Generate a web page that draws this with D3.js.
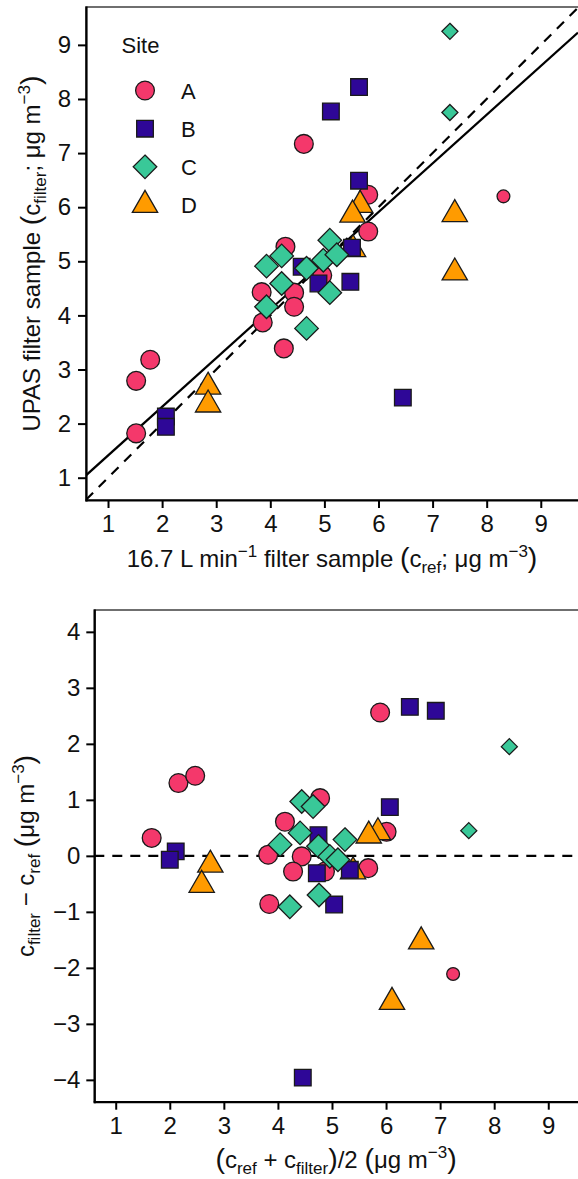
<!DOCTYPE html>
<html>
<head>
<meta charset="utf-8">
<script src="https://cdn.jsdelivr.net/npm/d3@7"></script>
<style>
  body { margin: 0; background: #fff; }
  svg text { font-family: "Liberation Sans", Arial, Helvetica, sans-serif; fill: #111; }
</style>
</head>
<body>
<svg id="chart" width="578" height="1179"></svg>
<script>
  const sites = ['A', 'B', 'C', 'D'];
  const siteColors = ['#f4386b', '#2e0797', '#39c898', '#ff9b00'];

  // upper panel: [c_ref, c_filter, run]  (run 1 = full sample, 0 = short sample)
  const scatterA = [
    [1.52, 2.79, 1], [1.78, 3.18, 1], [1.52, 1.82, 1], [3.86, 3.87, 1], [3.84, 4.43, 1],
    [4.25, 3.39, 1], [4.28, 5.27, 1], [4.44, 4.42, 1], [4.44, 4.16, 1], [4.62, 7.17, 1],
    [4.96, 4.74, 1], [5.81, 6.23, 1], [5.81, 5.55, 1], [8.31, 6.20, 0]
  ];
  const scatterB = [
    [2.07, 2.13, 1], [2.07, 1.94, 1], [5.12, 7.77, 1], [5.64, 8.22, 1], [5.64, 6.49, 1],
    [6.45, 2.48, 1], [5.51, 5.25, 1], [5.48, 4.62, 1], [4.89, 4.59, 1], [4.58, 4.90, 1]
  ];
  const scatterC = [
    [3.93, 4.91, 1], [4.21, 5.10, 1], [4.21, 4.59, 1], [3.93, 4.16, 1], [4.67, 3.76, 1],
    [4.67, 4.87, 1], [5.10, 5.39, 1], [4.98, 5.02, 1], [5.10, 4.42, 1], [5.23, 5.12, 1],
    [7.32, 9.25, 0], [7.32, 7.75, 0]
  ];
  const scatterD = [
    [2.85, 2.68, 1], [2.85, 2.35, 1], [7.41, 5.87, 1], [7.41, 4.79, 1], [5.66, 6.04, 1],
    [5.52, 5.86, 1], [5.53, 5.22, 1]
  ];

  // lower panel: [(c_ref + c_filter)/2, c_filter - c_ref, run]
  const blandA = [
    [1.665, 0.32, 1], [2.16, 1.30, 1], [2.47, 1.43, 1], [3.82, 0.02, 1], [4.13, 0.61, 1],
    [3.84, -0.86, 1], [4.78, 1.03, 1], [4.44, -0.01, 1], [4.28, -0.28, 1], [5.89, 2.56, 1],
    [4.87, -0.28, 1], [6.01, 0.43, 1], [5.67, -0.22, 1], [7.24, -2.11, 0]
  ];
  const blandB = [
    [2.11, 0.08, 1], [2.00, -0.07, 1], [6.44, 2.66, 1], [6.92, 2.59, 1], [6.07, 0.87, 1],
    [4.46, -3.96, 1], [5.33, -0.25, 1], [5.04, -0.87, 1], [4.72, -0.31, 1], [4.75, 0.37, 1]
  ];
  const blandC = [
    [4.44, 0.97, 1], [4.65, 0.88, 1], [4.41, 0.41, 1], [4.04, 0.20, 1], [4.22, -0.91, 1],
    [4.75, 0.17, 1], [5.24, 0.29, 1], [4.96, -0.01, 1], [4.76, -0.70, 1], [5.11, -0.07, 1],
    [8.28, 1.95, 0], [7.53, 0.45, 0]
  ];
  const blandD = [
    [2.75, -0.16, 1], [2.59, -0.52, 1], [6.65, -1.53, 1], [6.11, -2.61, 1], [5.85, 0.42, 1],
    [5.68, 0.36, 1], [5.39, -0.28, 1]
  ];

  const xTicks = [1, 2, 3, 4, 5, 6, 7, 8, 9];
  const yTicksTop = [1, 2, 3, 4, 5, 6, 7, 8, 9];
  const yTicksBottom = [-4, -3, -2, -1, 0, 1, 2, 3, 4];
  const fitLine = { intercept: 0.51, slope: 0.90 };
  const drawOrder = ['A', 'D', 'B', 'C'];

  const svg = d3.select('#chart');
  const color = d3.scaleOrdinal(sites, siteColors);

  // R-like point shapes (pch 21-24), size = radius
  const shapes = {
    A: { draw(ctx, r) { ctx.moveTo(r, 0); ctx.arc(0, 0, r, 0, 2 * Math.PI); } },
    B: { draw(ctx, r) { const h = r * 0.886; ctx.rect(-h, -h, 2 * h, 2 * h); } },
    C: { draw(ctx, r) {
      const h = r * 1.2533;
      ctx.moveTo(0, -h); ctx.lineTo(h, 0); ctx.lineTo(0, h); ctx.lineTo(-h, 0); ctx.closePath();
    } },
    D: { draw(ctx, r) {
      ctx.moveTo(0, -r * 1.5551); ctx.lineTo(r * 1.3468, r * 0.7776);
      ctx.lineTo(-r * 1.3468, r * 0.7776); ctx.closePath();
    } }
  };
  const radius = d3.scaleOrdinal([1, 0], [9.4, 6.4]);
  const symbol = (site, run) => d3.symbol().type(shapes[site]).size(radius(run))();

  // text with sub/superscripts
  function rich(text, parts) {
    let cur = 0;
    parts.forEach(([t, kind]) => {
      const off = kind === 'sup' ? -10 : kind === 'sub' ? 6 : 0;
      const size = kind === 'sup' || kind === 'sub' ? 17 : kind === 'big' ? 28.5 : 24;
      text.append('tspan').attr('dy', off - cur).style('font-size', size + 'px').text(t);
      cur = off;
    });
  }

  function panel(box, xDomain, yDomain, yTicks, id) {
    const x = d3.scaleLinear(xDomain, [box.left, box.right]);
    const y = d3.scaleLinear(yDomain, [box.bottom, box.top]);
    const g = svg.append('g');

    g.append('rect')
      .attr('x', box.left).attr('y', box.top)
      .attr('width', box.right - box.left + 3).attr('height', box.bottom - box.top)
      .attr('fill', 'none').attr('stroke', '#333').attr('stroke-width', 1.4);

    svg.append('clipPath').attr('id', id)
      .append('rect')
      .attr('x', box.left).attr('y', box.top)
      .attr('width', box.right - box.left).attr('height', box.bottom - box.top);

    const plot = g.append('g').attr('clip-path', `url(#${id})`);

    const xAxis = g.append('g')
      .attr('transform', `translate(0,${box.bottom})`)
      .call(d3.axisBottom(x).tickValues(xTicks).tickSize(8).tickSizeOuter(0).tickPadding(7));
    const yAxis = g.append('g')
      .attr('transform', `translate(${box.left},0)`)
      .call(d3.axisLeft(y).tickValues(yTicks).tickSize(8).tickSizeOuter(0).tickPadding(box.pad));
    [xAxis, yAxis].forEach(a => {
      a.select('.domain').attr('stroke', '#000').attr('stroke-width', 2.2).attr('stroke-linecap', 'square');
      a.selectAll('.tick line').attr('stroke', '#000').attr('stroke-width', 2);
      a.selectAll('.tick text').style('font-size', '24px').attr('fill', '#111')
        .style('font-family', '"Liberation Sans", Arial, sans-serif');
    });

    return { x, y, plot, g };
  }

  function drawPoints(p, data) {
    drawOrder.forEach(site => {
      p.plot.selectAll(null)
        .data(data[site])
        .enter()
        .append('path')
        .attr('d', d => symbol(site, d[2]))
        .attr('transform', d => `translate(${p.x(d[0])},${p.y(d[1])})`)
        .attr('fill', color(site))
        .attr('stroke', '#1a1a1a')
        .attr('stroke-width', 1.3);
    });
  }

  // ---- upper panel ----
  const upper = panel({ left: 86, right: 578, top: 7, bottom: 500, pad: 7 },
    [0.593, 9.688], [0.588, 9.70], yTicksTop, 'clipTop');
  const [x0, x1] = upper.x.domain();
  upper.plot.append('line')
    .attr('x1', upper.x(x0)).attr('y1', upper.y(x0))
    .attr('x2', upper.x(x1)).attr('y2', upper.y(x1))
    .attr('stroke', '#000').attr('stroke-width', 2.2).attr('stroke-dasharray', '10,8');
  upper.plot.append('line')
    .attr('x1', upper.x(x0)).attr('y1', upper.y(fitLine.intercept + fitLine.slope * x0))
    .attr('x2', upper.x(x1)).attr('y2', upper.y(fitLine.intercept + fitLine.slope * x1))
    .attr('stroke', '#000').attr('stroke-width', 2.2);
  drawPoints(upper, { A: scatterA, B: scatterB, C: scatterC, D: scatterD });

  // legend
  const legendY = d3.scalePoint(sites, [90.5, 205]);
  svg.append('text').attr('x', 121.5).attr('y', 53).style('font-size', '22px').text('Site');
  sites.forEach(s => {
    svg.append('path')
      .attr('d', symbol(s, 1))
      .attr('transform', `translate(145,${legendY(s)})`)
      .attr('fill', color(s)).attr('stroke', '#1a1a1a').attr('stroke-width', 1.3);
    svg.append('text').attr('x', 181).attr('y', legendY(s) + 8)
      .style('font-size', '22px').text(s);
  });

  const xt1 = svg.append('text').attr('x', 332).attr('y', 567).attr('text-anchor', 'middle');
  rich(xt1, [['16.7 L min'], ['\u22121', 'sup'], [' filter sample '], ['(', 'big'], ['c'], ['ref', 'sub'],
    ['; \u03bcg m'], ['\u22123', 'sup'], [')', 'big']]);
  const yt1 = svg.append('text').attr('text-anchor', 'middle')
    .attr('transform', 'translate(40,253.5) rotate(-90)');
  rich(yt1, [['UPAS filter sample '], ['(', 'big'], ['c'], ['filter', 'sub'],
    ['; \u03bcg m'], ['\u22123', 'sup'], [')', 'big']]);

  // ---- lower panel ----
  const lower = panel({ left: 94.3, right: 578, top: 610, bottom: 1101.7, pad: 6 },
    [0.604, 9.55], [-4.39, 4.39], yTicksBottom, 'clipBot');
  lower.plot.append('line')
    .attr('x1', lower.x.range()[0]).attr('x2', lower.x.range()[1])
    .attr('y1', lower.y(0)).attr('y2', lower.y(0))
    .attr('stroke', '#000').attr('stroke-width', 2.2).attr('stroke-dasharray', '10,8');
  drawPoints(lower, { A: blandA, B: blandB, C: blandC, D: blandD });

  const xt2 = svg.append('text').attr('x', 336).attr('y', 1168).attr('text-anchor', 'middle');
  rich(xt2, [['(', 'big'], ['c'], ['ref', 'sub'], [' + c'], ['filter', 'sub'], [')', 'big'],
    ['/2 '], ['(', 'big'], ['\u03bcg m'], ['\u22123', 'sup'], [')', 'big']]);
  const yt2 = svg.append('text').attr('text-anchor', 'middle')
    .attr('transform', 'translate(33.5,856) rotate(-90)');
  rich(yt2, [['c'], ['filter', 'sub'], [' \u2212 c'], ['ref', 'sub'], [' '], ['(', 'big'],
    ['\u03bcg m'], ['\u22123', 'sup'], [')', 'big']]);
</script>
</body>
</html>
